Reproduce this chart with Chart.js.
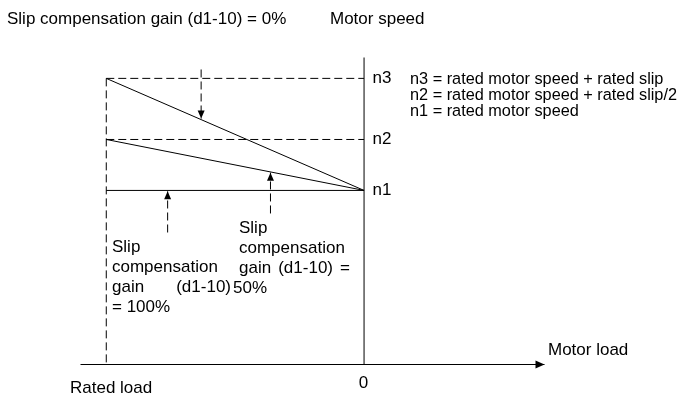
<!DOCTYPE html>
<html>
<head>
<meta charset="utf-8">
<script src="https://cdn.jsdelivr.net/npm/chart.js@4/dist/chart.umd.min.js"></script>
<style>
  html, body { margin: 0; padding: 0; background: #fff; }
</style>
</head>
<body>
<canvas id="slipChart" width="696" height="395"></canvas>
<script>
// motor load axis: rated load at -100, no load at 0
var loadRange = [-110, 70];
var loadPoints = [-100, 0];

// motor speed axis (0 = load axis, 100 = top of speed axis)
var speedRange = [0, 100];
var speedNames = ['n1', 'n2', 'n3'];
var speedValues = [56.7, 73.3, 93.2];

// one line per slip compensation gain: speed at rated load -> speed at no load
var gainNames = ['100%', '50%', '0%'];
var speedAtRated = [56.7, 73.3, 93.2];
var speedAtNoLoad = [56.7, 56.7, 56.7];

// dashed pointer arrows (load position, tail speed, tip speed)
var arrowLoad = [-63.2, -36.3, -76.2];
var arrowTail = [96.1, 49.2, 43.0];
var arrowTip = [80.1, 62.5, 56.4];

var legendLines = [
  'n3 = rated motor speed + rated slip',
  'n2 = rated motor speed + rated slip/2',
  'n1 = rated motor speed'
];

var FONT = '17px "Liberation Sans", Arial, sans-serif';
var LEGEND_FONT = '16.3px "Liberation Sans", Arial, sans-serif';

function seg(x1, y1, x2, y2) {
  return [{x: x1, y: y1}, {x: x2, y: y2}];
}

function lineSet(data, dashed) {
  return {
    data: data,
    showLine: true,
    borderColor: '#000',
    borderWidth: 1,
    borderDash: dashed ? [8, 4] : [],
    pointRadius: 0,
    clip: false
  };
}

var datasets = [];
// gain lines
for (var i = 0; i < gainNames.length; i++) {
  datasets.push(lineSet(seg(loadPoints[0], speedAtRated[i], loadPoints[1], speedAtNoLoad[i]), false));
}
// dashed guides for n2, n3
datasets.push(lineSet(seg(loadPoints[0], speedValues[1], loadPoints[1], speedValues[1]), true));
datasets.push(lineSet(seg(loadPoints[0], speedValues[2], loadPoints[1], speedValues[2]), true));
// rated load dashed vertical
datasets.push(lineSet(seg(loadPoints[0], speedValues[2], loadPoints[0], speedRange[0]), true));
// axes
datasets.push(lineSet(seg(loadPoints[1], speedRange[0], loadPoints[1], speedRange[1]), false));
datasets.push(lineSet(seg(loadRange[0], speedRange[0], loadRange[1], speedRange[0]), false));
// arrow shafts
for (var j = 0; j < arrowLoad.length; j++) {
  datasets.push(lineSet(seg(arrowLoad[j], arrowTail[j], arrowLoad[j], arrowTip[j]), true));
}

function arrowHead(ctx, tx, ty, dx, dy, len, half) {
  var bx = tx - dx * len, by = ty - dy * len;
  ctx.beginPath();
  ctx.moveTo(tx, ty);
  ctx.lineTo(bx - dy * half, by + dx * half);
  ctx.lineTo(bx + dy * half, by - dx * half);
  ctx.closePath();
  ctx.fill();
}

// shift line drawing half a pixel so 1px strokes land on pixel rows
var crispLines = {
  id: 'crispLines',
  beforeDatasetsDraw: function(chart) {
    chart.ctx.save();
    chart.ctx.translate(0.5, 0.5);
  },
  afterDatasetsDraw: function(chart) {
    chart.ctx.restore();
  }
};

var decorations = {
  id: 'decorations',
  afterDraw: function(chart) {
    var ctx = chart.ctx;
    var xs = chart.scales.x, ys = chart.scales.y;
    ctx.save();
    ctx.fillStyle = '#000';

    // arrow heads
    for (var k = 0; k < arrowLoad.length; k++) {
      var ax = xs.getPixelForValue(arrowLoad[k]) + 0.5;
      var tipY = ys.getPixelForValue(arrowTip[k]) + 0.5;
      var dir = arrowTip[k] < arrowTail[k] ? 1 : -1;
      arrowHead(ctx, ax, tipY, 0, dir, 8, 3.5);
    }
    arrowHead(ctx, xs.getPixelForValue(loadRange[1]) + 0.5, ys.getPixelForValue(0) + 0.5, 1, 0, 9, 4);

    ctx.font = FONT;
    ctx.textBaseline = 'alphabetic';
    ctx.textAlign = 'left';
    var x0 = xs.getPixelForValue(0);

    ctx.fillText('Slip compensation gain (d1-10) = 0%', 7, 24);
    ctx.fillText('Motor speed', 330, 24);

    for (var n = 0; n < speedNames.length; n++) {
      ctx.fillText(speedNames[n], x0 + 9, ys.getPixelForValue(speedValues[n]) + 5.5);
    }
    ctx.font = LEGEND_FONT;
    for (var m = 0; m < legendLines.length; m++) {
      ctx.fillText(legendLines[m], 410, 84 + m * 16);
    }
    ctx.font = FONT;

    ctx.fillText('Motor load', 548, 355);
    ctx.fillText('Rated load', 70, 393);
    ctx.textAlign = 'center';
    ctx.fillText('0', x0, 388);
    ctx.textAlign = 'left';

    // justified words across a width
    function justify(words, left, right, y) {
      var total = 0;
      words.forEach(function(w) { total += ctx.measureText(w).width; });
      var gap = (right - left - total) / (words.length - 1);
      var cx = left;
      words.forEach(function(w) {
        ctx.fillText(w, cx, y);
        cx += ctx.measureText(w).width + gap;
      });
    }

    // label for 100% gain
    ctx.fillText('Slip', 112, 252);
    ctx.fillText('compensation', 112, 272);
    justify(['gain', '(d1-10)'], 112, 231, 292);
    ctx.fillText('= ' + gainNames[0], 112, 312);

    // label for 50% gain
    ctx.fillText('Slip', 239, 233);
    ctx.fillText('compensation', 239, 253);
    justify(['gain', '(d1-10)', '='], 239, 350, 273);
    ctx.fillText(gainNames[1], 233, 293);

    ctx.restore();
  }
};

new Chart(document.getElementById('slipChart'), {
  type: 'scatter',
  data: { datasets: datasets },
  options: {
    responsive: false,
    animation: false,
    events: [],
    layout: { padding: { left: 80, right: 152, top: 57, bottom: 31 } },
    plugins: { legend: { display: false }, tooltip: { enabled: false } },
    scales: {
      x: { type: 'linear', min: loadRange[0], max: loadRange[1], display: false },
      y: { type: 'linear', min: speedRange[0], max: speedRange[1], display: false }
    }
  },
  plugins: [crispLines, decorations]
});
</script>
</body>
</html>
